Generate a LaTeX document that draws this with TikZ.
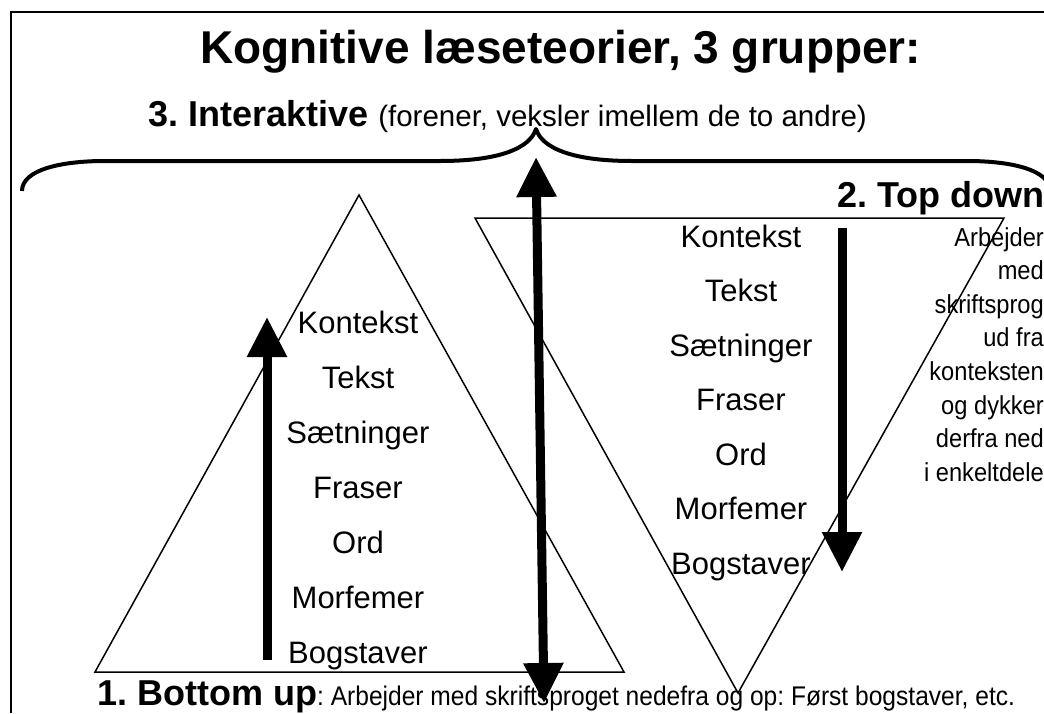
\documentclass[tikz,border=0pt]{standalone}
\usepackage{fontspec}
\setmainfont{Liberation Sans}
\newfontfamily\narrowfont[FakeStretch=0.91]{Liberation Sans}
\usetikzlibrary{arrows.meta}
\tikzset{bigtip/.tip={Triangle[width=38pt,length=40pt]}}
\frenchspacing

\begin{document}
\begin{tikzpicture}[x=1pt,y=-1pt,
    word/.style={anchor=base,inner sep=0pt,font=\fontsize{31}{31}\selectfont},
    note/.style={anchor=base east,inner sep=0pt,font=\narrowfont\fontsize{26}{26}\selectfont},
    bigarrow/.style={-bigtip,line width=9pt},
    tri/.style={line width=1.5pt,line join=miter}]
  \useasboundingbox (0,0) rectangle (1044,713);
  %\draw [help lines,step=50] (0,0) grid (1044,713);
  \draw[line width=2pt] (11,713) -- (11,12) -- (1044,12);
  \node[anchor=base west,inner sep=0pt,font=\bfseries\fontsize{46}{46}\selectfont] (title) at (200,63) {Kognitive læseteorier, 3 grupper:};
  \node[anchor=base west,inner sep=0pt] (inter) at (148,126) {\fontsize{36}{36}\selectfont\bfseries 3. Interaktive \fontsize{29.5}{30}\selectfont\mdseries(forener, veksler imellem de to andre)};
  % brace
  \draw[line width=4pt,line join=round] (22,191) .. controls (22,170) and (60,161) .. (105,161) -- (440,161)
    .. controls (500,161) and (530,148) .. (536,129) .. controls (542,148) and (572,161) .. (632,161)
    -- (967,161) .. controls (1012,161) and (1050,170) .. (1050,191);
  % triangles
  \coordinate (bu-l) at (95,672);
  \coordinate (bu-r) at (624,672);
  \coordinate (bu-top) at (359,195);
  \coordinate (td-l) at (475,218);
  \coordinate (td-r) at (1004,218);
  \coordinate (td-bot) at (738,693);
  \draw[tri] (bu-l) -- (bu-top) -- (bu-r) -- cycle;
  \draw[tri] (td-l) -- (td-r) -- (td-bot) -- cycle;
  \foreach \w [count=\i] in {Kontekst,Tekst,Sætninger,Fraser,Ord,Morfemer,Bogstaver} {
    \node[word] (bu-\i) at (358,{333+55*(\i-1)}) {\w};
    \node[word] (td-\i) at (741,{247+54.5*(\i-1)}) {\w};
  }
  % arrows
  \coordinate (bu-a0) at (267,660);
  \coordinate (bu-a1) at (267,317);
  \coordinate (td-a0) at (842,228);
  \coordinate (td-a1) at (842,572);
  \coordinate (ia-top) at (536,157);
  \coordinate (ia-bot) at (544,703);
  \draw[bigarrow] (bu-a0) -- (bu-a1);
  \draw[bigarrow] (td-a0) -- (td-a1);
  \draw[bigarrow,bigtip-bigtip] (ia-top) -- (ia-bot);
  % labels
  \node[anchor=base east,inner sep=0pt,font=\bfseries\fontsize{36}{36}\selectfont] (td-label) at (1045,207) {2. Top down};
  \foreach \t [count=\i] in {Arbejder,med,skriftsprog,ud fra,konteksten,og dykker,derfra ned,i enkeltdele}
    \node[note] (td-note-\i) at (1044,{246+33.6*(\i-1)}) {\t};
  \node[anchor=base west,inner sep=0pt] (bu-label) at (97,705) {\bfseries\fontsize{36}{36}\selectfont 1. Bottom up\narrowfont\mdseries\fontsize{27}{27}\selectfont: Arbejder med skriftsproget nedefra og op: Først bogstaver, etc.};
\end{tikzpicture}
\end{document}
